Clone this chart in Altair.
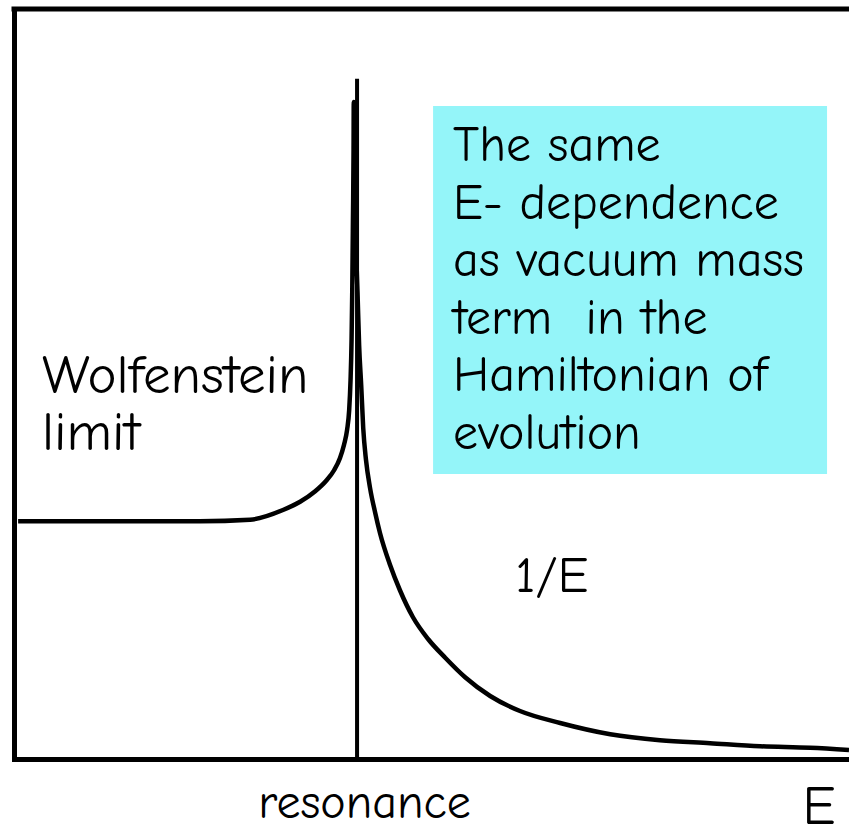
import altair as alt
import pandas as pd

# Energy E in units of the resonance energy; amplitude in arbitrary units (0..1)
E_LEFT = [0.012, 0.309, 0.542, 0.688, 0.784, 0.834, 0.878, 0.910, 0.933,
          0.950, 0.962, 0.971, 0.977, 0.981, 0.984, 0.986, 0.988, 0.9898,
          0.9904]
A_LEFT = [0.317, 0.317, 0.317, 0.319, 0.332, 0.343, 0.357, 0.371, 0.385,
          0.401, 0.419, 0.439, 0.465, 0.505, 0.559, 0.625, 0.719, 0.812,
          0.876]
E_RIGHT = [0.994, 0.997, 1.002, 1.006, 1.012, 1.018, 1.026, 1.038, 1.053,
           1.067, 1.096, 1.125, 1.163, 1.207, 1.257, 1.315, 1.388, 1.475,
           1.592, 1.738, 1.883, 2.029, 2.175, 2.321, 2.434]
A_RIGHT = [0.785, 0.692, 0.612, 0.552, 0.499, 0.441, 0.399, 0.361, 0.328,
           0.301, 0.259, 0.225, 0.189, 0.160, 0.135, 0.109, 0.084, 0.064,
           0.048, 0.033, 0.025, 0.021, 0.017, 0.015, 0.012]

E_MAX = 2.434
E_RES = 1.0
RES_LINE_TOP = 0.907

# Note box extent
BOX_E = [1.2216, 2.370]
BOX_A = [0.380, 0.8707]

BOX_LINES = ["The same", "E- dependence", "as vacuum mass",
             "term\u00a0\u00a0in the", "Hamiltonian of", "evolution"]
LEFT_LINES = ["Wolfenstein", "limit"]
TAIL_LABEL = "1/E"
AXIS_LABEL = "resonance"
AXIS_TITLE = "E"

FONT = "Comic Sans MS, Comic Neue, Noto Sans"

curve = pd.DataFrame({"E": E_LEFT + E_RIGHT, "A": A_LEFT + A_RIGHT})

xscale = alt.Scale(domain=[0, E_MAX], nice=False, zero=False)
yscale = alt.Scale(domain=[0, 1], nice=False, zero=False)

xaxis = alt.Axis(
    values=[E_RES], labelExpr=f"'{AXIS_LABEL}'", grid=False, ticks=False,
    tickSize=0, domain=True, domainColor="black", domainWidth=5,
    domainCap="square", labelFont=FONT, labelFontSize=48, labelColor="black",
    labelPadding=58, labelBaseline="alphabetic", labelOffset=7,
    labelLimit=500,
    titleFont=FONT, titleFontSize=55, titleFontWeight="normal",
    titleColor="black", titleX=804.5, titleY=64, titleAlign="center",
    titleBaseline="alphabetic", titleAngle=0,
)
yaxis = alt.Axis(
    labels=False, ticks=False, grid=False, domain=True, domainColor="black",
    domainWidth=5, domainCap="square", title="",
)


def X(field):
    return alt.X(field, type="quantitative", scale=xscale, axis=xaxis, title=AXIS_TITLE)


def Y(field):
    return alt.Y(field, type="quantitative", scale=yscale, axis=yaxis, title="")


box = alt.Chart(pd.DataFrame({"E": [BOX_E[0]], "E2": [BOX_E[1]],
                              "A": [BOX_A[0]], "A2": [BOX_A[1]]})).mark_rect(
    color="#94F5F9"
).encode(x=X("E"), x2="E2", y=Y("A"), y2="A2")

box_text = alt.Chart(pd.DataFrame({"E": [1.280], "A": [0.797]})).mark_text(
    align="left", baseline="alphabetic", font=FONT, fontSize=50,
    lineHeight=57.5, color="black"
).encode(x=X("E"), y=Y("A"), text=alt.value(BOX_LINES))

left_text = alt.Chart(pd.DataFrame({"E": [0.0816], "A": [0.488]})).mark_text(
    align="left", baseline="alphabetic", font=FONT, fontSize=55,
    lineHeight=57, color="black"
).encode(x=X("E"), y=Y("A"), text=alt.value(LEFT_LINES))

tail_text = alt.Chart(pd.DataFrame({"E": [1.461], "A": [0.223]})).mark_text(
    align="left", baseline="alphabetic", font=FONT, fontSize=51, color="black"
).encode(x=X("E"), y=Y("A"), text=alt.value(TAIL_LABEL))

top_edge = alt.Chart(pd.DataFrame({"E": [0.0], "E2": [E_MAX], "A": [1.0]})).mark_rule(
    color="black", strokeWidth=5, strokeCap="square"
).encode(x=X("E"), x2="E2", y=Y("A"))

res_line = alt.Chart(pd.DataFrame({"E": [E_RES], "A": [0.0], "A2": [RES_LINE_TOP]})).mark_rule(
    color="black", strokeWidth=4
).encode(x=X("E"), y=Y("A"), y2="A2")

line = alt.Chart(curve).mark_line(
    color="black", strokeWidth=4.5, interpolate="monotone"
).encode(x=X("E"), y=Y("A"), order=alt.Order("E:Q"))

chart = alt.layer(box, box_text, left_text, tail_text, top_edge, res_line, line).properties(
    width=835, height=750,
    autosize=alt.AutoSizeParams(type="none"),
    padding={"left": 14, "top": 9, "right": 0, "bottom": 66},
    background="white",
).configure_view(stroke=None)

chart.save("out.html", embed_options={"renderer": "svg", "actions": False})
